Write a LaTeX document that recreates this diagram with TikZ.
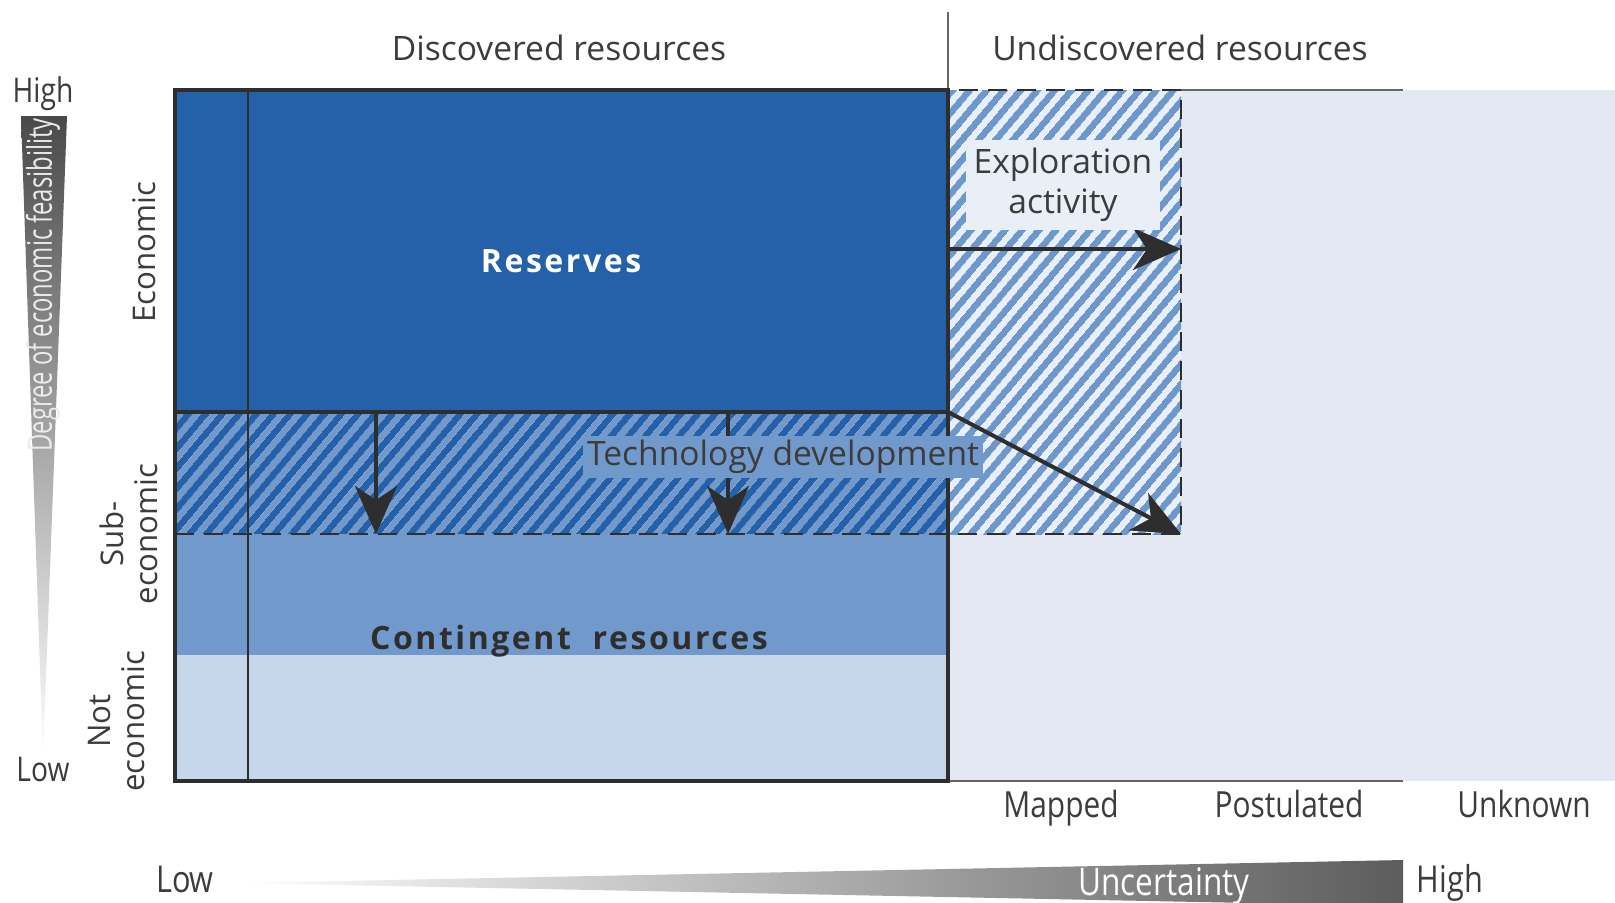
\documentclass[tikz,border=0pt]{standalone}
\usepackage{fontspec}
\setmainfont{Open Sans}
\newfontfamily\condfont[FakeStretch=0.83]{Open Sans}
\newfontfamily\narrowfont[FakeStretch=0.7]{Open Sans}
\newfontfamily\spacedfont[LetterSpace=8]{Open Sans}
\usetikzlibrary{arrows.meta, patterns.meta, positioning}
\definecolor{resblue}{HTML}{2461A8}
\definecolor{midblue}{HTML}{7199CB}
\definecolor{paleblue}{HTML}{C6D6EB}
\definecolor{undisc}{HTML}{E3E8F2}
\definecolor{hatchblue}{HTML}{6E98CC}
\definecolor{hatchpale}{HTML}{E9EFF7}
\definecolor{ink}{HTML}{2E2E2E}
\definecolor{txt}{HTML}{3C3C3C}
\definecolor{shadedark}{HTML}{4A4A4A}

\begin{document}
\begin{tikzpicture}[x=0.5pt, y=-0.5pt,
      frame/.style={draw=ink, line width=2pt},
      dashline/.style={draw=ink, line width=1pt, dash pattern=on 9.5pt off 5pt},
      thinline/.style={draw=gray!80!black, line width=0.7pt},
      arr/.style={draw=ink, line width=2pt, -{Stealth[length=24pt, width=21pt, inset=7pt]}},
      stripes/.style={pattern={Lines[angle=50, distance=6.5pt, line width=3.4pt]}},
      lbl/.style={text=txt, inner sep=0pt, font=\fontsize{16.8}{19}\selectfont},
      sidelbl/.style={text=txt, inner sep=0pt, rotate=90, align=center, font=\fontsize{15.6}{17}\selectfont},
      cond/.style={text=txt, inner sep=0pt, font=\condfont\fontsize{18}{20}\selectfont},
      boldlbl/.style={inner sep=0pt, font=\spacedfont\bfseries\fontsize{16}{19}\selectfont}]
  \useasboundingbox (0,0) rectangle (1615,902);

  % areas
  \fill[undisc] (948,90) rectangle (1615,781);
  \fill[hatchpale] (948,90) rectangle (1181,534);
  \fill[stripes, pattern color=hatchblue] (948,90) rectangle (1181,534);
  \fill[resblue] (175,90) rectangle (948,412);
  \fill[midblue] (175,412) rectangle (948,534);
  \fill[stripes, pattern color=resblue] (175,412) rectangle (948,534);
  \fill[midblue] (175,534) rectangle (948,655);
  \fill[paleblue] (175,655) rectangle (948,781);

  % lines
  \draw[ink, line width=0.6pt] (248,90) -- (248,781);
  \draw[dashline] (175,534) -- (1181,534) -- (1181,90) -- (948,90);
  \draw[thinline] (1181,90) -- (1403,90);
  \draw[thinline] (948,781) -- (1403,781);
  \draw[thinline] (948,12) -- (948,90);
  \draw[frame] (175,90) rectangle (948,781);
  \draw[frame] (175,412) -- (948,412);

  % scales
  \shade[top color=shadedark, bottom color=white] (21,116) -- (67,116) -- (43,757) -- cycle;
  \shade[left color=white, right color=shadedark!90] (237,883) -- (1403,860) -- (1403,906) -- cycle;

  % arrows
  \coordinate (ea0) at (948,249);
  \coordinate (ea1) at (1181,249);
  \coordinate (td0) at (948,412);
  \coordinate (td1) at (1181,534);
  \coordinate (dn0) at (376,412);
  \coordinate (dn1) at (376,534);
  \coordinate (dm0) at (728,412);
  \coordinate (dm1) at (728,534);
  \draw[arr] (ea0) -- (ea1);
  \draw[arr] (td0) -- (td1);
  \draw[arr] (dn0) -- (dn1);
  \draw[arr] (dm0) -- (dm1);

  % labels
  \node[lbl] (disc) at (559,48) {Discovered resources};
  \node[lbl] (undisc) at (1180,48) {Undiscovered resources};
  \node[boldlbl, text=white] (res) at (561,261) {Reserves};
  \node[boldlbl, text=ink] (cont) at (569,641) {Contingent\ \ resources};
  \node[lbl, fill=midblue, inner sep=2pt] (tech) at (783,457) {Technology development};
  \node[lbl, fill=hatchpale, inner sep=4pt, align=center,
        font=\fontsize{16.8}{20}\selectfont] (expl) at (1063,185) {Exploration\\activity};

  \node[sidelbl] (econ) at (144,252) {Economic};
  \node[sidelbl] (subecon) at (129,534) {Sub-\\economic};
  \node[sidelbl] (notecon) at (117,721) {Not\\economic};

  \node[cond, font=\condfont\fontsize{17}{20}\selectfont] (hi) at (43,94) {High};
  \node[cond, font=\condfont\fontsize{17}{20}\selectfont] (lo) at (43,770) {Low};
  \node[cond, rotate=90, text=white!92!black, font=\narrowfont\fontsize{17}{20}\selectfont]
       (feas) at (43,285) {Degree of economic feasibility};

  \node[cond, anchor=base] (mapped) at (1061,817) {Mapped};
  \node[cond, anchor=base] (post) at (1289,817) {Postulated};
  \node[cond, anchor=base] (unk) at (1524,817) {Unknown};
  \node[cond, anchor=base, font=\condfont\fontsize{18.5}{20}\selectfont] (ulo) at (185,892) {Low};
  \node[cond, anchor=base, font=\condfont\fontsize{18.5}{20}\selectfont] (uhi) at (1450,892) {High};
  \node[cond, anchor=base, text=white, font=\condfont\fontsize{19}{20}\selectfont] (unc) at (1164,895) {Uncertainty};
\end{tikzpicture}
\end{document}
